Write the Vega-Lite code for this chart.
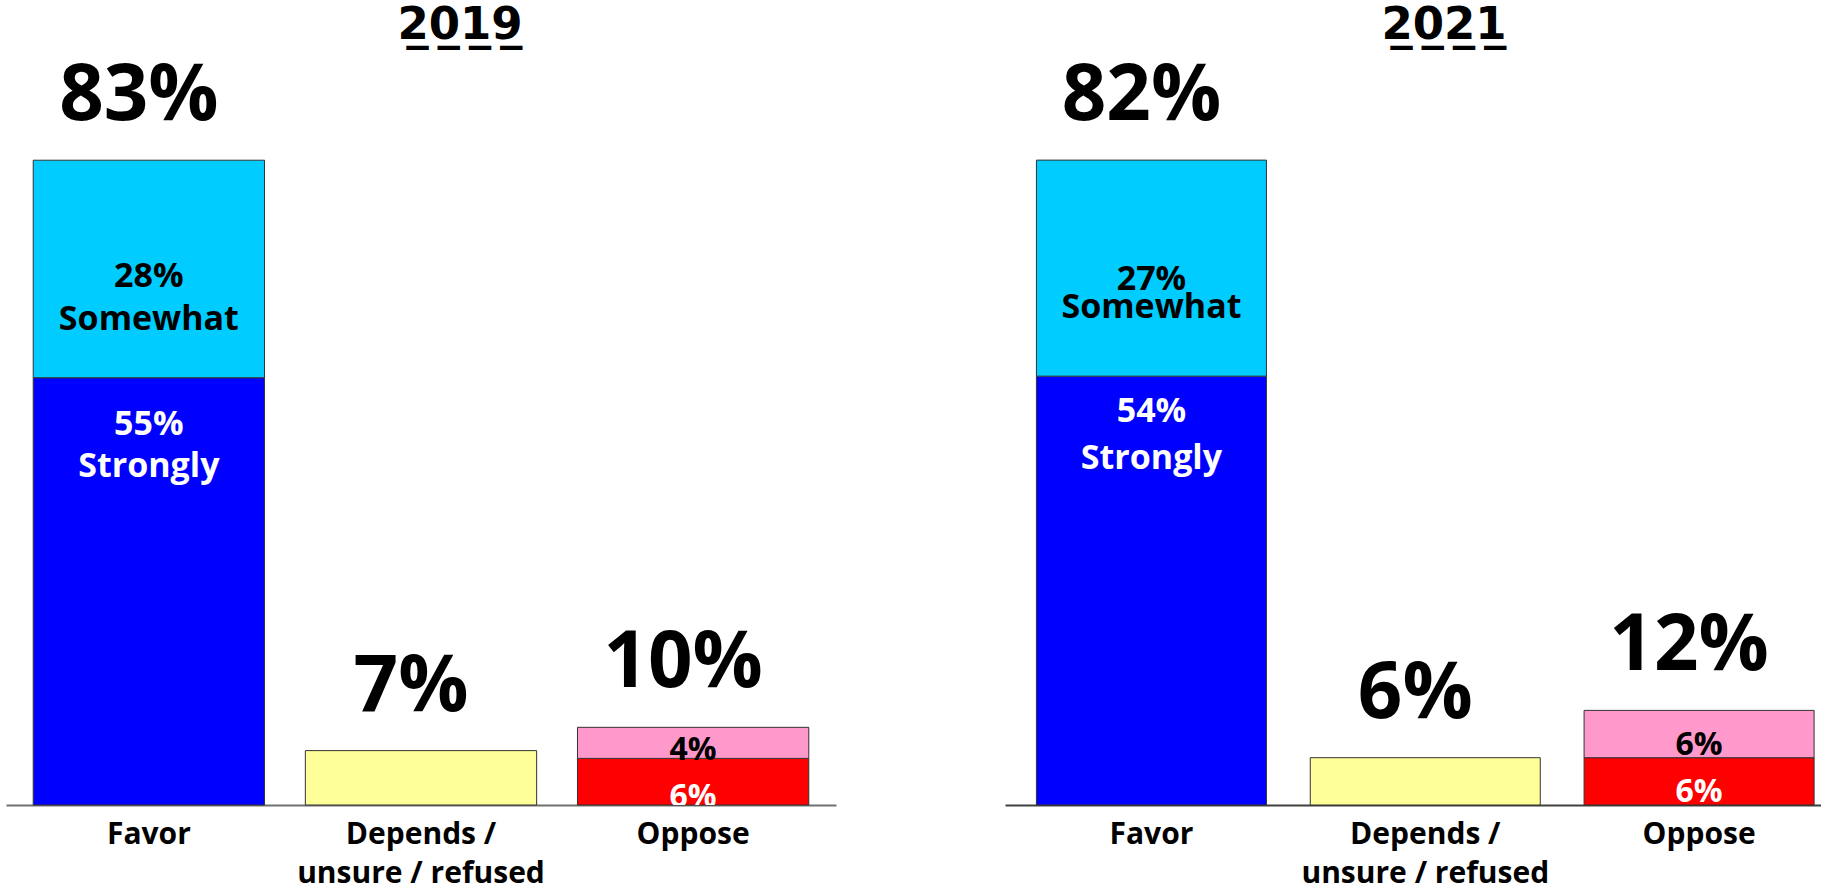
{
  "$schema": "https://vega.github.io/schema/vega-lite/v6.json",
  "background": "white",
  "padding": {"left": 6, "top": 3, "right": 0, "bottom": 0},
  "config": {"view": {"stroke": null}, "font": "Open Sans"},
  "datasets": {
    "survey": [
      {"year": "2019", "category": "Favor", "part": "Strongly favor", "segment": "Strongly", "value": 0.55},
      {"year": "2019", "category": "Favor", "part": "Somewhat favor", "segment": "Somewhat", "value": 0.28},
      {"year": "2019", "category": "Depends / unsure / refused", "part": "Depends", "segment": "", "value": 0.07},
      {"year": "2019", "category": "Oppose", "part": "Strongly oppose", "segment": "Strongly", "value": 0.06},
      {"year": "2019", "category": "Oppose", "part": "Somewhat oppose", "segment": "Somewhat", "value": 0.04},
      {"year": "2021", "category": "Favor", "part": "Strongly favor", "segment": "Strongly", "value": 0.544},
      {"year": "2021", "category": "Favor", "part": "Somewhat favor", "segment": "Somewhat", "value": 0.274},
      {"year": "2021", "category": "Depends / unsure / refused", "part": "Depends", "segment": "", "value": 0.06},
      {"year": "2021", "category": "Oppose", "part": "Strongly oppose", "segment": "Strongly", "value": 0.06},
      {"year": "2021", "category": "Oppose", "part": "Somewhat oppose", "segment": "Somewhat", "value": 0.06}
    ]
  },
  "spacing": 169,
  "hconcat": [
    {
      "width": 830,
      "height": 745,
      "data": {"name": "survey"},
      "title": {"text": "2\u03320\u03321\u03329\u0332", "font": "DejaVu Sans", "fontSize": 45, "fontWeight": "bold", "color": "black", "anchor": "middle", "dx": 39, "offset": -26, "baseline": "alphabetic"},
      "transform": [
        {"filter": "datum.year == '2019'"},
        {"stack": "value", "groupby": ["category"], "sort": [{"field": "part", "order": "descending"}], "as": ["v0", "v1"]}
      ],
      "encoding": {
        "x": {
          "field": "category", "type": "nominal",
          "sort": ["Favor", "Depends / unsure / refused", "Oppose"],
          "scale": {"paddingInner": 0.15, "paddingOuter": 0.1},
          "axis": {"title": null, "labelAngle": 0, "ticks": false, "domainColor": "#707070", "domainWidth": 2, "labelFont": "Open Sans", "labelFontSize": 30, "labelFontWeight": "bold", "labelColor": "black", "labelPadding": 14, "labelLineHeight": 39, "labelLimit": 0, "labelOverlap": false, "labelBound": false, "labelFlush": false, "labelExpr": "datum.value == 'Depends / unsure / refused' ? ['Depends /', 'unsure / refused'] : datum.label"}
        }
      },
      "layer": [
        {
          "mark": {"type": "bar", "stroke": "#333333", "strokeWidth": 1},
          "encoding": {
            "y": {"field": "v1", "type": "quantitative", "scale": {"domain": [0, 0.959], "nice": false, "zero": true}, "axis": null},
            "y2": {"field": "v0"},
            "color": {"field": "part", "type": "nominal", "scale": {"domain": ["Strongly favor", "Somewhat favor", "Depends", "Strongly oppose", "Somewhat oppose"], "range": ["#0000FF", "#00CCFF", "#FFFF99", "#FF0000", "#FF99CC"]}, "legend": null}
          }
        },
        {
          "transform": [{"aggregate": [{"op": "sum", "field": "value", "as": "total"}], "groupby": ["category"]}],
          "mark": {"type": "text", "font": "Open Sans", "fontWeight": "bold", "fontSize": 78, "baseline": "alphabetic", "dy": -40, "dx": -10, "color": "black"},
          "encoding": {
            "y": {"field": "total", "type": "quantitative", "scale": {"domain": [0, 0.959], "nice": false, "zero": true}, "axis": null},
            "text": {"field": "total", "type": "quantitative", "format": ".0%"}
          }
        },
        {
          "transform": [{"filter": "datum.part == 'Somewhat favor'"}],
          "mark": {"type": "text", "font": "Open Sans", "fontWeight": "bold", "fontSize": 34, "baseline": "alphabetic", "dy": 127, "color": "black"},
          "encoding": {
            "y": {"field": "v1", "type": "quantitative", "scale": {"domain": [0, 0.959], "nice": false, "zero": true}, "axis": null},
            "text": {"field": "value", "type": "quantitative", "format": ".0%"}
          }
        },
        {
          "transform": [{"filter": "datum.part == 'Somewhat favor'"}],
          "mark": {"type": "text", "font": "Open Sans", "fontWeight": "bold", "fontSize": 34, "baseline": "alphabetic", "dy": 170, "color": "black"},
          "encoding": {
            "y": {"field": "v1", "type": "quantitative", "scale": {"domain": [0, 0.959], "nice": false, "zero": true}, "axis": null},
            "text": {"field": "segment", "type": "nominal"}
          }
        },
        {
          "transform": [{"filter": "datum.part == 'Strongly favor'"}],
          "mark": {"type": "text", "font": "Open Sans", "fontWeight": "bold", "fontSize": 34, "baseline": "alphabetic", "dy": 57, "color": "white"},
          "encoding": {
            "y": {"field": "v1", "type": "quantitative", "scale": {"domain": [0, 0.959], "nice": false, "zero": true}, "axis": null},
            "text": {"field": "value", "type": "quantitative", "format": ".0%"}
          }
        },
        {
          "transform": [{"filter": "datum.part == 'Strongly favor'"}],
          "mark": {"type": "text", "font": "Open Sans", "fontWeight": "bold", "fontSize": 34, "baseline": "alphabetic", "dy": 99, "color": "white"},
          "encoding": {
            "y": {"field": "v1", "type": "quantitative", "scale": {"domain": [0, 0.959], "nice": false, "zero": true}, "axis": null},
            "text": {"field": "segment", "type": "nominal"}
          }
        },
        {
          "transform": [{"filter": "datum.category == 'Oppose'"}],
          "mark": {"type": "text", "font": "Open Sans", "fontWeight": "bold", "fontSize": 32, "baseline": "alphabetic", "dy": 2, "clip": true},
          "encoding": {
            "y": {"field": "v0", "type": "quantitative", "scale": {"domain": [0, 0.959], "nice": false, "zero": true}, "axis": null},
            "text": {"field": "value", "type": "quantitative", "format": ".0%"},
            "color": {"condition": {"test": "datum.part == 'Strongly oppose'", "value": "white"}, "value": "black"}
          }
        }
      ]
    },
    {
      "width": 816,
      "height": 745,
      "data": {"name": "survey"},
      "title": {"text": "2\u03320\u03322\u03321\u0332", "font": "DejaVu Sans", "fontSize": 45, "fontWeight": "bold", "color": "black", "anchor": "middle", "dx": 31, "offset": -26, "baseline": "alphabetic"},
      "transform": [
        {"filter": "datum.year == '2021'"},
        {"stack": "value", "groupby": ["category"], "sort": [{"field": "part", "order": "descending"}], "as": ["v0", "v1"]}
      ],
      "encoding": {
        "x": {
          "field": "category", "type": "nominal",
          "sort": ["Favor", "Depends / unsure / refused", "Oppose"],
          "scale": {"paddingInner": 0.16, "paddingOuter": 0.07, "align": 0.82},
          "axis": {"title": null, "labelAngle": 0, "ticks": false, "domainColor": "#404040", "domainWidth": 2, "labelFont": "Open Sans", "labelFontSize": 30, "labelFontWeight": "bold", "labelColor": "black", "labelPadding": 14, "labelLineHeight": 39, "labelLimit": 0, "labelOverlap": false, "labelBound": false, "labelFlush": false, "labelExpr": "datum.value == 'Depends / unsure / refused' ? ['Depends /', 'unsure / refused'] : datum.label"}
        }
      },
      "layer": [
        {
          "mark": {"type": "bar", "stroke": "#333333", "strokeWidth": 1},
          "encoding": {
            "y": {"field": "v1", "type": "quantitative", "scale": {"domain": [0, 0.945], "nice": false, "zero": true}, "axis": null},
            "y2": {"field": "v0"},
            "color": {"field": "part", "type": "nominal", "scale": {"domain": ["Strongly favor", "Somewhat favor", "Depends", "Strongly oppose", "Somewhat oppose"], "range": ["#0000FF", "#00CCFF", "#FFFF99", "#FF0000", "#FF99CC"]}, "legend": null}
          }
        },
        {
          "transform": [{"aggregate": [{"op": "sum", "field": "value", "as": "total"}], "groupby": ["category"]}],
          "mark": {"type": "text", "font": "Open Sans", "fontWeight": "bold", "fontSize": 78, "baseline": "alphabetic", "dy": -40, "dx": -10, "color": "black"},
          "encoding": {
            "y": {"field": "total", "type": "quantitative", "scale": {"domain": [0, 0.945], "nice": false, "zero": true}, "axis": null},
            "text": {"field": "total", "type": "quantitative", "format": ".0%"}
          }
        },
        {
          "transform": [{"filter": "datum.part == 'Somewhat favor'"}],
          "mark": {"type": "text", "font": "Open Sans", "fontWeight": "bold", "fontSize": 34, "baseline": "alphabetic", "dy": 130, "color": "black"},
          "encoding": {
            "y": {"field": "v1", "type": "quantitative", "scale": {"domain": [0, 0.945], "nice": false, "zero": true}, "axis": null},
            "text": {"field": "value", "type": "quantitative", "format": ".0%"}
          }
        },
        {
          "transform": [{"filter": "datum.part == 'Somewhat favor'"}],
          "mark": {"type": "text", "font": "Open Sans", "fontWeight": "bold", "fontSize": 34, "baseline": "alphabetic", "dy": 158, "color": "black"},
          "encoding": {
            "y": {"field": "v1", "type": "quantitative", "scale": {"domain": [0, 0.945], "nice": false, "zero": true}, "axis": null},
            "text": {"field": "segment", "type": "nominal"}
          }
        },
        {
          "transform": [{"filter": "datum.part == 'Strongly favor'"}],
          "mark": {"type": "text", "font": "Open Sans", "fontWeight": "bold", "fontSize": 34, "baseline": "alphabetic", "dy": 46, "color": "white"},
          "encoding": {
            "y": {"field": "v1", "type": "quantitative", "scale": {"domain": [0, 0.945], "nice": false, "zero": true}, "axis": null},
            "text": {"field": "value", "type": "quantitative", "format": ".0%"}
          }
        },
        {
          "transform": [{"filter": "datum.part == 'Strongly favor'"}],
          "mark": {"type": "text", "font": "Open Sans", "fontWeight": "bold", "fontSize": 34, "baseline": "alphabetic", "dy": 93, "color": "white"},
          "encoding": {
            "y": {"field": "v1", "type": "quantitative", "scale": {"domain": [0, 0.945], "nice": false, "zero": true}, "axis": null},
            "text": {"field": "segment", "type": "nominal"}
          }
        },
        {
          "transform": [{"filter": "datum.category == 'Oppose'"}],
          "mark": {"type": "text", "font": "Open Sans", "fontWeight": "bold", "fontSize": 32, "baseline": "alphabetic", "dy": -3, "clip": true},
          "encoding": {
            "y": {"field": "v0", "type": "quantitative", "scale": {"domain": [0, 0.945], "nice": false, "zero": true}, "axis": null},
            "text": {"field": "value", "type": "quantitative", "format": ".0%"},
            "color": {"condition": {"test": "datum.part == 'Strongly oppose'", "value": "white"}, "value": "black"}
          }
        }
      ]
    }
  ]
}
